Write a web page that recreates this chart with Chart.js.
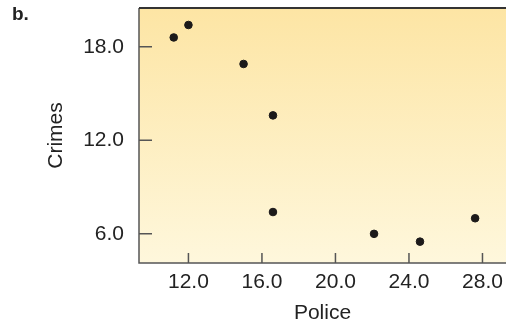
<!DOCTYPE html>
<html>
<head>
<meta charset="utf-8">
<script src="https://cdn.jsdelivr.net/npm/chart.js@4"></script>
<style>
  html, body { margin: 0; padding: 0; background: #fff; }
  #wrap { position: relative; width: 506px; height: 323px; }
  #tag { position: absolute; left: 12px; top: 3px; font: bold 19px "Liberation Sans", Arial, sans-serif; color: #222; }
</style>
</head>
<body>
<div id="wrap">
  <canvas id="crimeChart" width="506" height="323"></canvas>
  <div id="tag">b.</div>
</div>
<script>
// police officers vs crimes
const police = [11.2, 12.0, 15.0, 16.6, 16.6, 22.1, 24.6, 27.6];
const crimes = [18.6, 19.4, 16.9, 13.6, 7.4, 6.0, 5.5, 7.0];
const xTicks = [12, 16, 20, 24, 28];
const yTicks = [6, 12, 18];

const points = police.map((p, i) => ({ x: p, y: crimes[i] }));

const frame = {
  id: 'frame',
  beforeDraw(chart) {
    const { ctx, chartArea: a } = chart;
    const g = ctx.createLinearGradient(0, a.top, 0, a.bottom);
    g.addColorStop(0, '#fde5a4');
    g.addColorStop(1, '#fef7dc');
    ctx.save();
    ctx.fillStyle = g;
    ctx.fillRect(a.left, a.top, a.right - a.left, a.bottom - a.top);
    ctx.restore();
  },
  afterDraw(chart) {
    const { ctx, chartArea: a, scales } = chart;
    ctx.save();
    ctx.lineWidth = 1.5;
    ctx.strokeStyle = '#555';
    ctx.beginPath();
    ctx.moveTo(a.left, a.top);
    ctx.lineTo(a.left, a.bottom);
    ctx.lineTo(a.right, a.bottom);
    // inner tick marks
    yTicks.forEach(v => {
      const y = scales.y.getPixelForValue(v);
      ctx.moveTo(a.left, y);
      ctx.lineTo(a.left + 13, y);
    });
    xTicks.forEach(v => {
      const x = scales.x.getPixelForValue(v);
      ctx.moveTo(x, a.bottom);
      ctx.lineTo(x, a.bottom - 10);
    });
    ctx.stroke();
    ctx.strokeStyle = '#333';
    ctx.lineWidth = 2;
    ctx.beginPath();
    ctx.moveTo(a.left, a.top);
    ctx.lineTo(a.right, a.top);
    ctx.stroke();
    ctx.restore();
  }
};

const font = { family: '"Liberation Sans", Arial, sans-serif', size: 21 };

new Chart(document.getElementById('crimeChart').getContext('2d'), {
  type: 'scatter',
  data: {
    datasets: [{
      data: points,
      backgroundColor: '#1c1a1a',
      borderColor: '#1c1a1a',
      pointRadius: 3.8,
      pointHoverRadius: 3.8
    }]
  },
  options: {
    responsive: false,
    animation: false,
    layout: { autoPadding: false, padding: { top: 8, right: 0, left: 0, bottom: 0 } },
    plugins: { legend: { display: false }, tooltip: { enabled: false } },
    scales: {
      x: {
        type: 'linear',
        min: 9.31,
        max: 29.28,
        afterBuildTicks: s => { s.ticks = xTicks.map(v => ({ value: v })); },
        afterFit: s => { s.height = 60; s.paddingLeft = 0; s.paddingRight = 0; },
        grid: { display: false, drawTicks: false },
        border: { display: false },
        ticks: { padding: 7, color: '#222', font, callback: v => v.toFixed(1) },
        title: { display: true, text: 'Police', color: '#222', font, padding: { top: 0, bottom: -3 } }
      },
      y: {
        type: 'linear',
        min: 4.13,
        max: 20.49,
        afterBuildTicks: s => { s.ticks = yTicks.map(v => ({ value: v })); },
        afterFit: s => { s.width = 139; s.paddingTop = 0; s.paddingBottom = 0; },
        grid: { display: false, drawTicks: false },
        border: { display: false },
        ticks: { padding: 15, color: '#222', font, callback: v => v.toFixed(1) },
        title: { display: true, text: 'Crimes', color: '#222', font, padding: { top: 44, bottom: 0 } }
      }
    }
  },
  plugins: [frame]
});
</script>
</body>
</html>
